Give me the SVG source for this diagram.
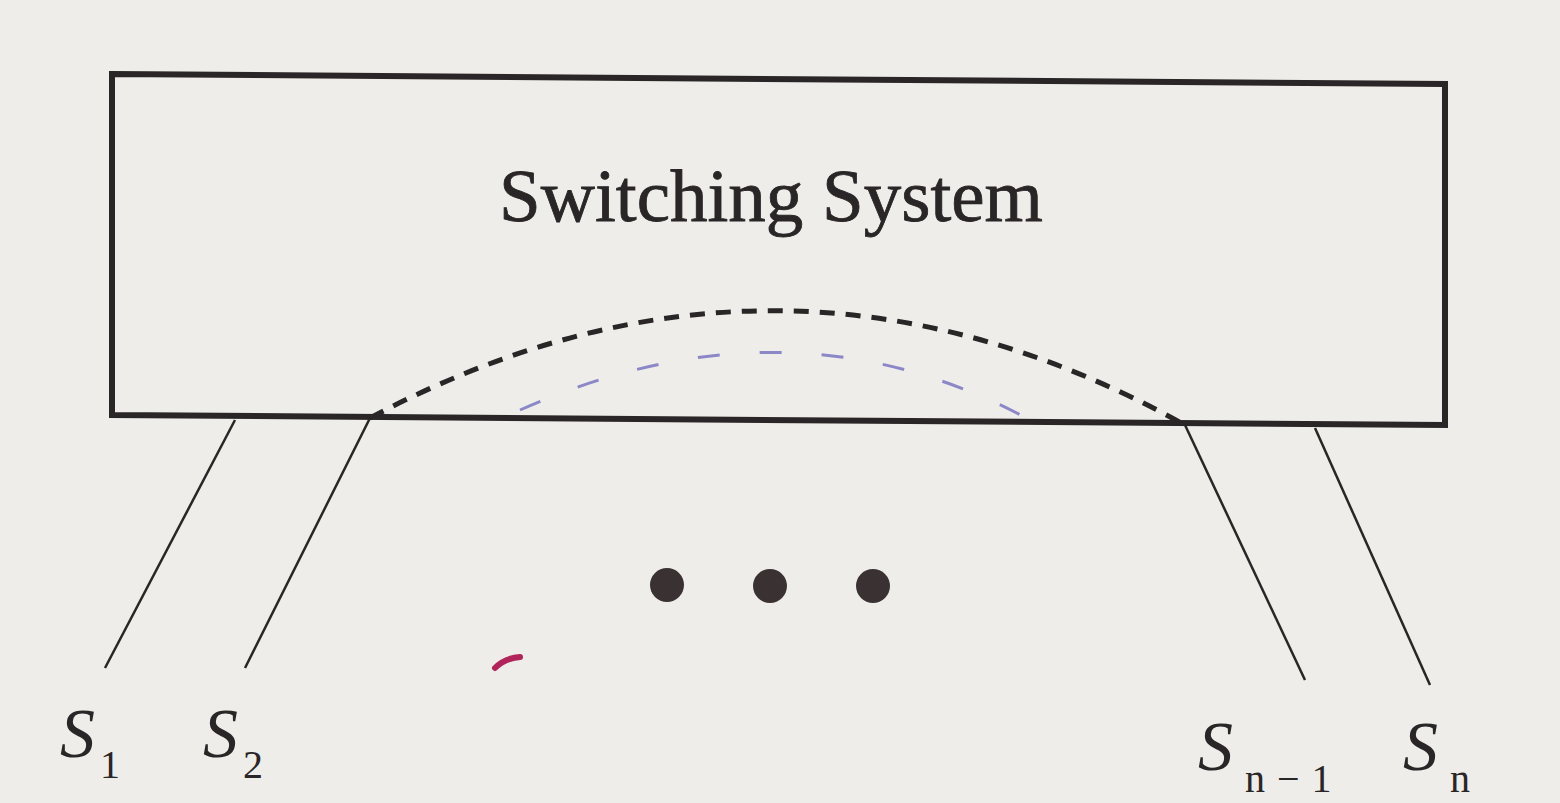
<svg xmlns="http://www.w3.org/2000/svg" width="1560" height="803" viewBox="0 0 1560 803">
<style>
.ink{stroke:#2a2526;fill:none}
.lead{stroke:#2a2526;stroke-width:2.5;fill:none}
.lbl{font-family:"Liberation Serif",serif;font-style:italic;fill:#2a2526;font-size:70px}
.sub{font-family:"Liberation Serif",serif;fill:#2a2526;font-size:40px}
.dot{fill:#3a3133}
</style>
<rect width="1560" height="803" fill="#eeede9"/>
<g id="switching-system">
<polygon class="ink" stroke-width="6" points="112,74 1445,84 1445,425 112,415"/>
<text x="771" y="221" text-anchor="middle" font-family="Liberation Serif,serif" font-size="75" fill="#2a2526" stroke="#2a2526" stroke-width="0.8">Switching System</text>
</g>
<g id="connectors">
<path class="ink" stroke-width="5" stroke-dasharray="15,11" d="M370,418 Q780,200 1185,425"/>
<path stroke="#8c88c8" stroke-width="3" fill="none" stroke-dasharray="22,40" d="M520,410 Q790,290 1030,420"/>
<line class="lead" x1="235" y1="420" x2="105" y2="668"/>
<line class="lead" x1="370" y1="418" x2="245" y2="668"/>
<line class="lead" x1="1185" y1="425" x2="1305" y2="680"/>
<line class="lead" x1="1315" y1="428" x2="1430" y2="685"/>
</g>
<g id="ellipsis">
<circle class="dot" cx="667" cy="585" r="17"/>
<circle class="dot" cx="770" cy="586" r="17"/>
<circle class="dot" cx="873" cy="586" r="17"/>
</g>
<g id="s1"><text class="lbl" x="60" y="757">S</text><text class="sub" x="100" y="778">1</text></g>
<g id="s2"><text class="lbl" x="203" y="757">S</text><text class="sub" x="243" y="778">2</text></g>
<g id="sn-1"><text class="lbl" x="1198" y="770">S</text><text class="sub" x="1245" y="792" letter-spacing="12">n−1</text></g>
<g id="sn"><text class="lbl" x="1403" y="770">S</text><text class="sub" x="1450" y="792">n</text></g>
<path d="M495,668 Q505,658 520,657" stroke="#b0245a" stroke-width="6" fill="none" stroke-linecap="round"/>
</svg>
